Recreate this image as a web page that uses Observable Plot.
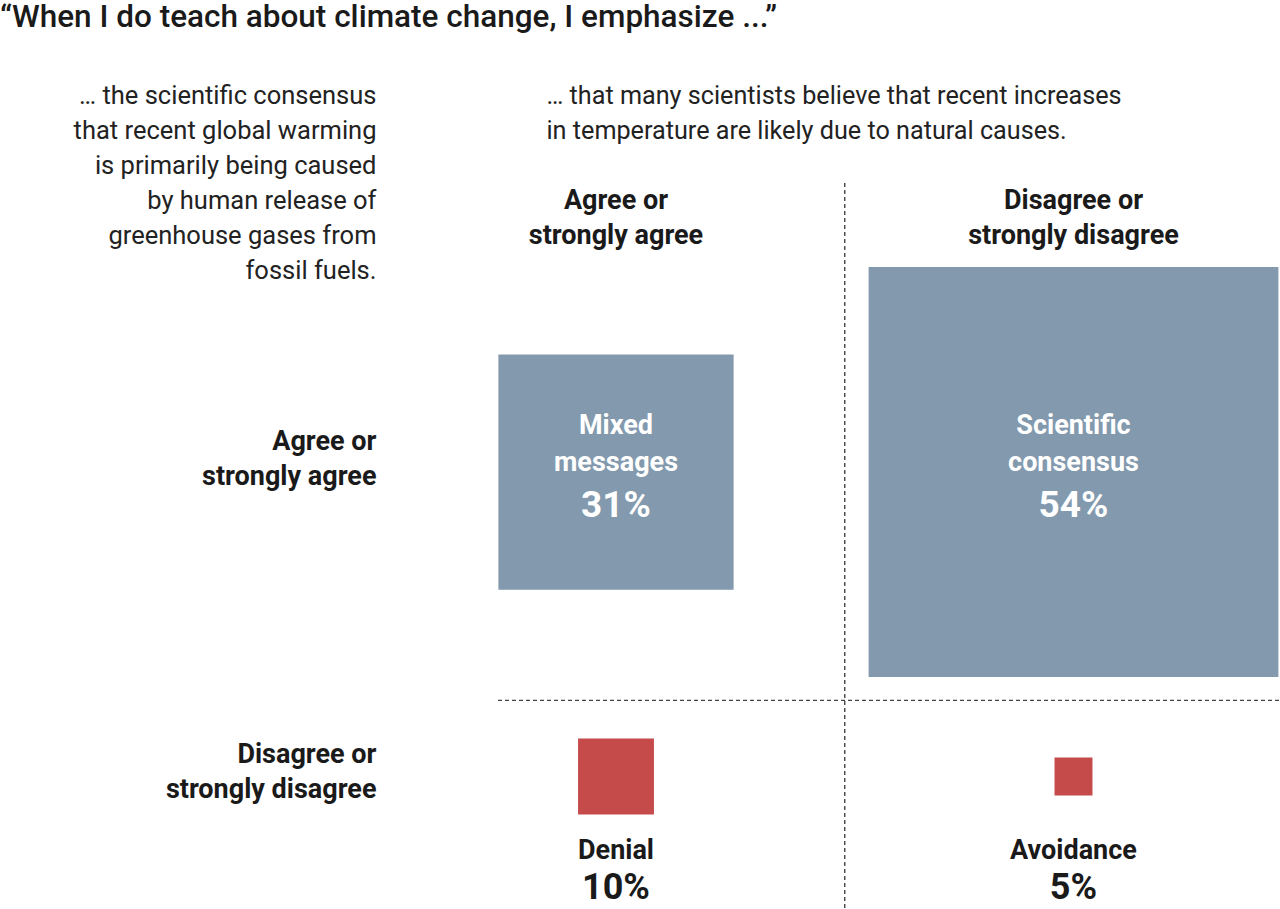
<!DOCTYPE html>
<html><head><meta charset="utf-8">
<script src="https://cdn.jsdelivr.net/npm/d3@7"></script>
<script src="https://cdn.jsdelivr.net/npm/@observablehq/plot@0.6"></script>
<style>
html,body{margin:0;padding:0;background:#fff;}
body{font-family:"Roboto",sans-serif;color:#1a1a1a;width:1280px;height:909px;overflow:hidden;}
#title{height:40px;font-size:31.5px;font-weight:500;line-height:34px;margin:0;padding:0;white-space:nowrap;}
#chart svg{display:block;}
</style></head><body>
<div id="title">“When I do teach about climate change, I emphasize ...”</div>
<div id="chart"></div>
<script>
// Column and row categories (answers to the two statements)
const columns = ["Agree or\nstrongly agree", "Disagree or\nstrongly disagree"];
const rows = ["Agree or\nstrongly agree", "Disagree or\nstrongly disagree"];
// Quadrants
const names = ["Mixed\nmessages", "Scientific\nconsensus", "Denial", "Avoidance"];
const colIndex = [0, 1, 0, 1];
const rowIndex = [0, 0, 1, 1];
const shares = [31, 54, 10, 5];
const tones = ["consensus taught", "consensus taught", "consensus not taught", "consensus not taught"];
const leftNote = "… the scientific consensus\nthat recent global warming\nis primarily being caused\nby human release of\ngreenhouse gases from\nfossil fuels.";
const topNote = "… that many scientists believe that recent increases\nin temperature are likely due to natural causes.";

const data = names.map((name, i) => ({name, col: colIndex[i], row: rowIndex[i], share: shares[i], tone: tones[i]}));
const FONT = '"Roboto",sans-serif';
const dash = {stroke: "#444", strokeWidth: 1.4, strokeDasharray: "4,3"};

const chart = Plot.plot({
  width: 1280, height: 869,
  marginLeft: 498, marginTop: 143, marginRight: 0, marginBottom: 0,
  x: {type: "linear", domain: [0, 1], range: [615.5, 1073], axis: null},
  y: {type: "linear", domain: [0, 1], range: [431.5, 736], axis: null},
  r: {type: "linear", domain: [0, 54], range: [0, 231.2]},
  color: {domain: ["consensus taught", "consensus not taught"], range: ["#8299ae", "#c44b4a"]},
  style: {fontFamily: FONT, background: "#fff", color: "#1a1a1a"},
  marks: [
    Plot.ruleX([0.5], dash),
    Plot.ruleY([0.75], dash),
    Plot.dot(data, {x: "col", y: "row", r: "share", symbol: "square", fill: "tone", stroke: null}),
    // labels inside the top-row squares
    Plot.text(data.filter(d => d.row === 0), {x: "col", y: "row", text: "name", fill: "white", fontWeight: "bold", fontSize: 27, lineHeight: 1.35, lineAnchor: "middle", dy: -31}),
    Plot.text(data.filter(d => d.row === 0), {x: "col", y: "row", text: d => d.share + "%", fill: "white", fontWeight: "bold", fontSize: 37, lineAnchor: "middle", dy: 33}),
    // labels below the bottom-row squares
    Plot.text(data.filter(d => d.row === 1), {x: "col", y: "row", text: "name", fill: "#1a1a1a", fontWeight: "bold", fontSize: 27, lineAnchor: "middle", dy: 74}),
    Plot.text(data.filter(d => d.row === 1), {x: "col", y: "row", text: d => d.share + "%", fill: "#1a1a1a", fontWeight: "bold", fontSize: 36, lineAnchor: "middle", dy: 111}),
    // column headers
    Plot.text(columns, {x: (d, i) => i, text: d => d, frameAnchor: "top", lineAnchor: "top", dy: 1, fontWeight: "bold", fontSize: 27, lineHeight: 1.29, fill: "#1a1a1a"}),
    // row headers
    Plot.text([rows[0]], {y: () => 0, text: d => d, frameAnchor: "left", textAnchor: "end", dx: -122, lineAnchor: "middle", dy: -16, fontWeight: "bold", fontSize: 27, lineHeight: 1.29, fill: "#1a1a1a"}),
    Plot.text([rows[1]], {y: () => 1, text: d => d, frameAnchor: "left", textAnchor: "end", dx: -122, lineAnchor: "middle", dy: -7, fontWeight: "bold", fontSize: 27, lineHeight: 1.29, fill: "#1a1a1a"}),
    // statements
    Plot.text([leftNote], {text: d => d, frameAnchor: "top-left", textAnchor: "end", lineAnchor: "top", dx: -122, dy: -104, fontSize: 25.5, lineHeight: 1.37, fill: "#222"}),
    Plot.text([topNote], {text: d => d, frameAnchor: "top-left", textAnchor: "start", lineAnchor: "top", dx: 48, dy: -104, fontSize: 25.2, lineHeight: 1.39, fill: "#222"})
  ]
});
document.getElementById("chart").appendChild(chart);
</script>
</body></html>
